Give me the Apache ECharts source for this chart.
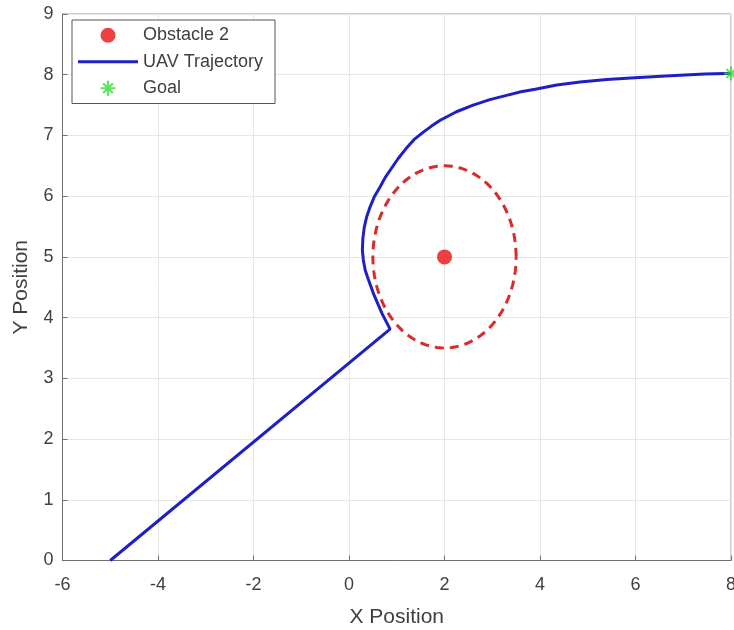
<!DOCTYPE html>
<html>
<head>
<meta charset="utf-8">
<script src="https://cdn.jsdelivr.net/npm/echarts@6/dist/echarts.min.js"></script>
<style>html,body{margin:0;padding:0;background:#fff}#c{width:734px;height:630px}</style>
</head>
<body>
<div id="c"></div>
<script>
// ---- data ----
var trajX = [-5, 0.86, 0.69, 0.51, 0.40, 0.34, 0.30, 0.28, 0.29, 0.32, 0.37, 0.44, 0.53, 0.65, 0.76, 0.89, 1.03, 1.19, 1.36, 1.55, 1.72, 1.91, 2.25, 2.60, 2.95, 3.30, 3.60, 3.90, 4.35, 4.84, 5.40, 5.99, 6.45, 6.93, 7.45, 7.90, 8.0];
var trajY = [0, 3.81, 4.07, 4.40, 4.64, 4.78, 4.95, 5.11, 5.30, 5.49, 5.66, 5.82, 5.99, 6.15, 6.31, 6.46, 6.62, 6.78, 6.93, 7.05, 7.15, 7.25, 7.39, 7.50, 7.59, 7.66, 7.72, 7.76, 7.83, 7.88, 7.92, 7.95, 7.97, 7.99, 8.01, 8.02, 8.02];
var obstacleX = [2];
var obstacleY = [5];
var safetyRadius = [1.5];
var goalX = [8];
var goalY = [8.02];
var xTicks = [-6, 8, 2];   // min, max, interval
var yTicks = [0, 9, 1];

var trajData = trajX.map(function (x, i) { return [x, trajY[i]]; });
var obsData = obstacleX.map(function (x, i) { return [x, obstacleY[i]]; });
var ringData = obstacleX.map(function (x, i) { return [x, obstacleY[i], safetyRadius[i]]; });
var goalData = goalX.map(function (x, i) { return [x, goalY[i]]; });

var asterisk = 'path://M-1,-7H1V7H-1Z M-7,-1H7V1H-7Z M-5.2,-3.8L-3.8,-5.2L5.2,3.8L3.8,5.2Z M5.2,-3.8L-3.8,5.2L-5.2,3.8L3.8,-5.2Z';

var chart = echarts.init(document.getElementById('c'));
var txt = '#404040';
chart.setOption({
  animation: false,
  textStyle: { fontFamily: 'Liberation Sans, Arial, sans-serif' },
  grid: { left: 62.5, right: 3, top: 14, bottom: 69.5, containLabel: false, outerBoundsMode: 'none',
    show: true, borderColor: '#9a9a9a', borderWidth: 1, backgroundColor: 'transparent' },
  xAxis: {
    type: 'value', min: xTicks[0], max: xTicks[1], interval: xTicks[2],
    name: 'X Position', nameLocation: 'middle', nameGap: 46,
    nameTextStyle: { fontSize: 21, color: txt },
    axisLine: { onZero: false, lineStyle: { color: '#707070', width: 1 } },
    axisTick: { show: true, inside: true, length: 5, lineStyle: { color: '#707070' } },
    axisLabel: { fontSize: 18, color: txt, margin: 16 },
    splitLine: { show: true, lineStyle: { color: '#e6e6e6', width: 1 } }
  },
  yAxis: {
    type: 'value', min: yTicks[0], max: yTicks[1], interval: yTicks[2],
    name: 'Y Position', nameLocation: 'middle', nameGap: 31,
    nameTextStyle: { fontSize: 21, color: txt },
    axisLine: { show: true, onZero: false, lineStyle: { color: '#707070', width: 1 } },
    axisTick: { show: true, inside: true, length: 5, lineStyle: { color: '#707070' } },
    axisLabel: { fontSize: 18, color: txt, margin: 9 },
    splitLine: { show: true, lineStyle: { color: '#e6e6e6', width: 1 } }
  },
  legend: {
    orient: 'vertical', left: 72, top: 20,
    padding: [2, 12, 2, 6], itemGap: 0, itemWidth: 60, itemHeight: 15,
    borderColor: '#555', borderWidth: 1, backgroundColor: '#fff',
    textStyle: { fontSize: 18, color: txt, lineHeight: 26.5 },
    data: [
      { name: 'Obstacle 2', icon: 'circle' },
      { name: 'UAV Trajectory', icon: 'path://M0,0H60V3H0Z' },
      { name: 'Goal', icon: asterisk }
    ]
  },
  series: [
    {
      name: 'Safety Boundary', type: 'custom', data: ringData, silent: true, z: 2,
      renderItem: function (params, api) {
        var cx = api.value(0), cy = api.value(1), r = api.value(2);
        var pts = [];
        for (var k = 0; k <= 120; k++) {
          var a = k / 120 * Math.PI * 2;
          pts.push(api.coord([cx + r * Math.cos(a), cy + r * Math.sin(a)]));
        }
        return { type: 'polyline', shape: { points: pts },
          style: { fill: null, stroke: '#dc2a2a', lineWidth: 3, lineDash: [9, 6] } };
      }
    },
    {
      name: 'UAV Trajectory', type: 'line', data: trajData, showSymbol: false, symbol: 'none',
      itemStyle: { color: '#1f1fc8' },
      lineStyle: { color: '#1f1fc8', width: 3 }, z: 3
    },
    {
      name: 'Obstacle 2', type: 'scatter', data: obsData, symbol: 'circle', symbolSize: 15,
      itemStyle: { color: '#e81010' }, z: 4
    },
    {
      name: 'Goal', type: 'scatter', data: goalData, symbol: asterisk, symbolSize: 14,
      itemStyle: { color: '#33dd33' }, clip: false, z: 5
    }
  ]
});
</script>
</body>
</html>
